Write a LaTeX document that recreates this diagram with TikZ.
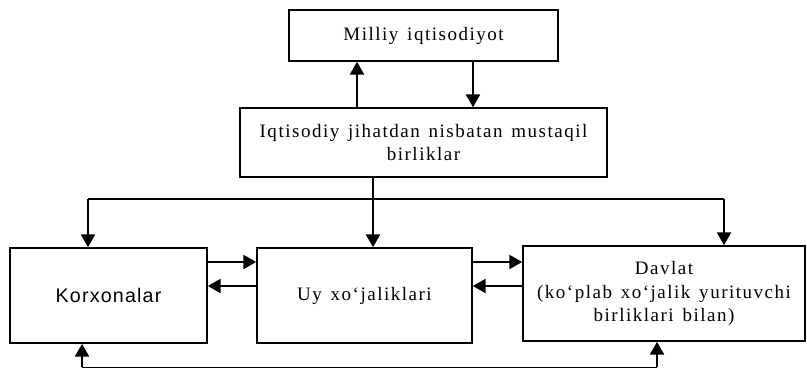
\documentclass[tikz,border=0pt]{standalone}
\usepackage{fontspec}
\setmainfont{Liberation Serif}[LetterSpace=8,WordSpace=1.4]
\setsansfont{Liberation Sans}[LetterSpace=6]
\usetikzlibrary{arrows.meta,positioning,calc}

\begin{document}
\begin{tikzpicture}[
    x=0.025cm, y=-0.025cm,
    every node/.style={font=\fontsize{13.5}{16.5}\selectfont},
    blok/.style={draw, line width=1.2pt, align=center, inner sep=2pt},
    oq/.style={-{Triangle[length=9pt,width=10pt]}, line width=1.1pt},
]
\useasboundingbox (0,0) rectangle (807,369);

\node[blok, minimum width=6.725cm, minimum height=1.275cm] (milliy) at (423.5,35.5) {Milliy iqtisodiyot};
\node[blok, minimum width=9.175cm, minimum height=1.725cm] (mustaqil) at (423.5,142.5) {Iqtisodiy jihatdan nisbatan mustaqil\\birliklar};

\node[blok, minimum width=4.925cm, minimum height=2.375cm, font=\sffamily\fontsize{14}{16}\selectfont] (kor) at (108.5,295.5) {Korxonalar};
\node[blok, minimum width=5.375cm, minimum height=2.375cm] (uy) at (364.5,295.5) {Uy xo‘jaliklari};
\node[blok, minimum width=7.05cm, minimum height=2.375cm] (dav) at (664,293.5) {Davlat\\(ko‘plab xo‘jalik yurituvchi\\birliklari bilan)};

% yuqori aloqalar
\draw[oq] (mustaqil.north -| 357,0) -- (milliy.south -| 357,0);
\draw[oq] (milliy.south -| 473,0) -- (mustaqil.north -| 473,0);

% taqsimlash
\coordinate (tq) at (373,199);
\coordinate (tl) at (88,199);
\coordinate (tr) at (724,199);
\draw[line width=1.1pt] (mustaqil.south -| tq) -- (tq);
\draw[line width=1.1pt] (tl) -- (tr);
\draw[oq] (tl) -- (kor.north -| tl);
\draw[oq] (tq) -- (uy.north -| tq);
\draw[oq] (tr) -- (dav.north -| tr);

% gorizontal oqimlar
\draw[oq] (kor.east |- 0,262) -- (uy.west |- 0,262);
\draw[oq] (uy.west |- 0,286) -- (kor.east |- 0,286);
\draw[oq] (uy.east |- 0,262) -- (dav.west |- 0,262);
\draw[oq] (dav.west |- 0,286) -- (uy.east |- 0,286);

% pastki aloqa
\coordinate (bl) at (82,367);
\coordinate (br) at (657,367);
\draw[line width=0.5pt] (bl) -- (br);
\draw[oq] (bl) -- (kor.south -| bl);
\draw[oq] (br) -- (dav.south -| br);
\end{tikzpicture}
\end{document}
